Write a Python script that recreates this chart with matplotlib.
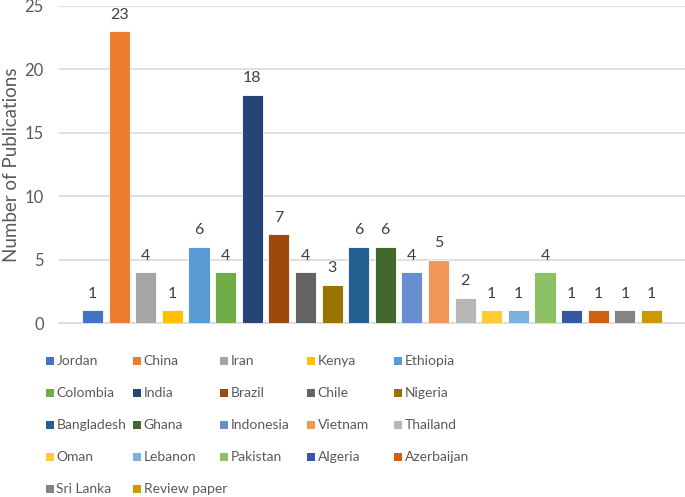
import matplotlib
matplotlib.use("Agg")
import matplotlib.pyplot as plt
from matplotlib.patches import Rectangle

countries = ["Jordan", "China", "Iran", "Kenya", "Ethiopia", "Colombia", "India",
             "Brazil", "Chile", "Nigeria", "Bangladesh", "Ghana", "Indonesia",
             "Vietnam", "Thailand", "Oman", "Lebanon", "Pakistan", "Algeria",
             "Azerbaijan", "Sri Lanka", "Review paper"]
publications = [1, 23, 4, 1, 6, 4, 18, 7, 4, 3, 6, 6, 4, 5, 2, 1, 1, 4, 1, 1, 1, 1]
colors = ["#4472C4", "#ED7D31", "#A5A5A5", "#FFC000", "#5B9BD5", "#70AD47",
          "#264478", "#9E480E", "#636363", "#997300", "#255E91", "#43682B",
          "#698ED0", "#F1975A", "#B7B7B7", "#FFCD33", "#7CAFDD", "#8CC168",
          "#335AA1", "#D26012", "#848484", "#CC9A00"]
yticks = [0, 5, 10, 15, 20, 25]

plt.rcParams['font.family'] = ['Lato', 'DejaVu Sans']
W, H = 685, 497
fig = plt.figure(figsize=(W / 100, H / 100), dpi=100)
ax = fig.add_axes([59 / W, 1 - 323 / H, (685 - 59) / W, (323 - 6) / H])

x = list(range(len(countries)))
bars = ax.bar(x, publications, width=0.79, color=colors, edgecolor="white",
              linewidth=0.6, zorder=3)
for xi, v in zip(x, publications):
    ax.annotate(str(v), (xi, v), xytext=(0, 7), textcoords="offset points",
                ha="center", va="bottom", fontsize=11.5, color="#404040")

ax.set_xlim(-1.26, len(countries) - 1 + 1.26)
ax.set_ylim(0, 25)
ax.set_yticks(yticks)
ax.set_xticks([])
ax.grid(axis="y", color="#D9D9D9", linewidth=1.2, zorder=0)
ax.set_axisbelow(True)
for s in ["top", "right", "left"]:
    ax.spines[s].set_visible(False)
ax.spines["bottom"].set_color("#D9D9D9")
ax.spines["bottom"].set_linewidth(1.2)
ax.tick_params(axis="y", length=0, labelsize=12, labelcolor="#595959", pad=11)
for lbl in ax.get_yticklabels():
    lbl.set_clip_on(False)
ax.set_ylabel("Number of Publications", fontsize=13.5, color="#595959", labelpad=3)

# legend laid out like Excel: 5 columns, row-major
col_x0, col_dx = 46, 87
row_y0, row_dy = 361, 32
sq = 8
for i, (name, c) in enumerate(zip(countries, colors)):
    r, cidx = divmod(i, 5)
    px = col_x0 + cidx * col_dx
    py = row_y0 + r * row_dy
    fig.patches.append(Rectangle((px / W, 1 - (py + sq / 2) / H), sq / W, sq / H,
                                 transform=fig.transFigure, facecolor=c,
                                 edgecolor="none"))
    fig.text((px + sq + 2.5) / W, 1 - py / H, name, ha="left", va="center",
             fontsize=10, color="#595959")

fig.savefig("out.png", dpi=100)
